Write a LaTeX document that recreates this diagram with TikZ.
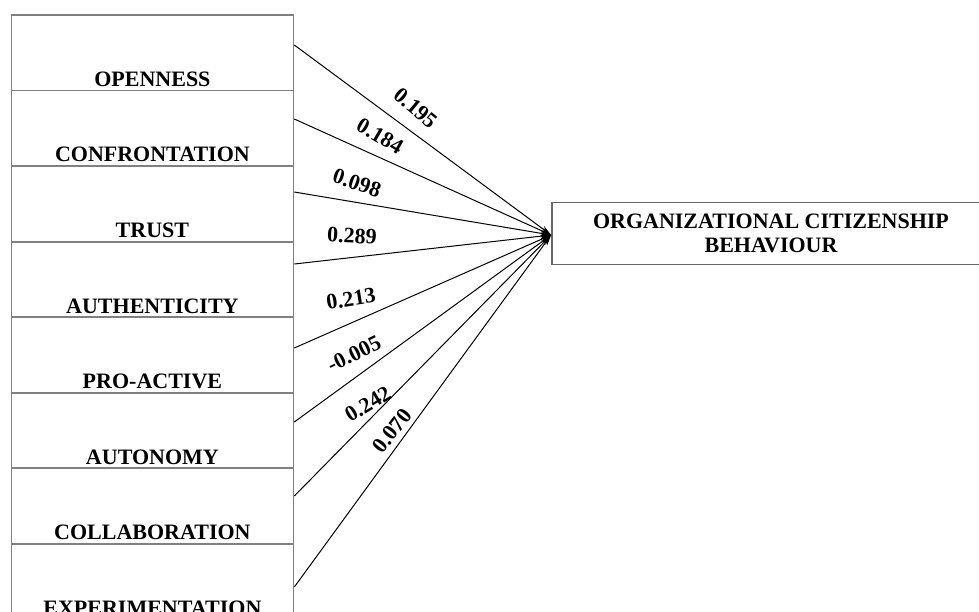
\documentclass[tikz,border=0pt]{standalone}
\usepackage{fontspec}
\setmainfont{Liberation Serif}
\usetikzlibrary{calc,arrows.meta}
\tikzset{
  x=1pt,y=-1pt,
  lbl/.style={font=\fontsize{22}{23.5}\selectfont\bfseries, inner sep=0pt},
  factorbox/.style={draw=black!50, line width=1.8pt, minimum width=282pt, minimum height=75.57pt, inner sep=0pt, anchor=north west},
  factortext/.style={lbl, anchor=base},
  targetbox/.style={draw=black!60, line width=1.8pt, minimum width=438pt, minimum height=62pt, align=center, inner sep=0pt, font=\fontsize{22}{23.5}\selectfont\bfseries},
  path/.style={draw=black, line width=1pt, -{Stealth[length=11pt,width=6pt]}},
  coef/.style={lbl}
}
\begin{document}
\begin{tikzpicture}
\useasboundingbox (0,0) rectangle (979,611);
\clip (0,0) rectangle (979,611);
\fill[white] (0,0) rectangle (979,611);

% factor boxes
\node[factorbox] (b1) at (10.5,14.0) {};
\node[factorbox] (b2) at (10.5,89.6) {};
\node[factorbox] (b3) at (10.5,165.1) {};
\node[factorbox] (b4) at (10.5,240.7) {};
\node[factorbox] (b5) at (10.5,316.3) {};
\node[factorbox] (b6) at (10.5,391.9) {};
\node[factorbox] (b7) at (10.5,467.4) {};
\node[factorbox] (b8) at (10.5,543.0) {};

\node[factortext] (t1) at ($(b1.south)+(0,-5)$) {OPENNESS};
\node[factortext] (t2) at ($(b2.south)+(0,-5)$) {CONFRONTATION};
\node[factortext] (t3) at ($(b3.south)+(0,-5)$) {TRUST};
\node[factortext] (t4) at ($(b4.south)+(0,-5)$) {AUTHENTICITY};
\node[factortext] (t5) at ($(b5.south)+(0,-5)$) {PRO-ACTIVE};
\node[factortext] (t6) at ($(b6.south)+(0,-5)$) {AUTONOMY};
\node[factortext] (t7) at ($(b7.south)+(0,-5)$) {COLLABORATION};
\node[factortext] (t8) at ($(b8.south)+(0,-5)$) {EXPERIMENTATION};

% target box
\node[targetbox] (ocb) at (771,233.5) {ORGANIZATIONAL CITIZENSHIP\\BEHAVIOUR};

% start points of the paths
\coordinate (s1) at ($(b1.north east)+(0,31)$);
\coordinate (s2) at ($(b2.north east)+(0,29.4)$);
\coordinate (s3) at ($(b3.north east)+(0,26.9)$);
\coordinate (s4) at ($(b4.north east)+(0,23.3)$);
\coordinate (s5) at ($(b5.north east)+(0,31.7)$);
\coordinate (s6) at ($(b6.north east)+(0,30.1)$);
\coordinate (s7) at ($(b7.north east)+(0,28.6)$);
\coordinate (s8) at ($(b8.north east)+(0,44)$);
\coordinate (tip) at ($(ocb.west)+(0,1.5)$);

\foreach \i in {1,...,8} {
  \draw[path] (s\i) -- (tip);
}

% coefficients
\node[coef, rotate=-40] (c1) at (416,108) {0.195};
\node[coef, rotate=-30] (c2) at (380,136) {0.184};
\node[coef, rotate=-19] (c3) at (357,183) {0.098};
\node[coef, rotate=-3]  (c4) at (352,236) {0.289};
\node[coef, rotate=9]   (c5) at (351,299) {0.213};
\node[coef, rotate=26]  (c6) at (354,354) {-0.005};
\node[coef, rotate=31]  (c7) at (368,404) {0.242};
\node[coef, rotate=52]  (c8) at (392,431) {0.070};
\end{tikzpicture}
\end{document}
